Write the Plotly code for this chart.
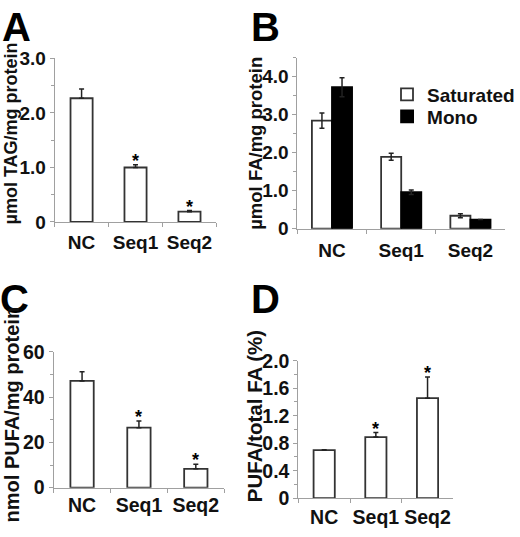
import plotly.graph_objects as go

# ---------------- data ----------------
categories = ["NC", "Seq1", "Seq2"]

tag_values = [2.27, 1.00, 0.19]
tag_errors = [0.17, 0.05, 0.02]
tag_signif = ["", "*", "*"]

fa_saturated = [2.84, 1.89, 0.34]
fa_saturated_err = [0.20, 0.09, 0.05]
fa_mono = [3.72, 0.96, 0.24]
fa_mono_err = [0.25, 0.06, 0.0]

pufa_values = [47.2, 26.5, 8.3]
pufa_errors = [4.0, 3.0, 2.0]
pufa_signif = ["", "*", "*"]

ratio_values = [0.70, 0.89, 1.455]
ratio_errors = [0.005, 0.065, 0.31]
ratio_signif = ["", "*", "*"]

tag_tickvals = [0, 1, 2, 3]
tag_ticktext = ["0", "1.0", "2.0", "3.0"]
tag_minor = [0.5, 1.5, 2.5]

fa_tickvals = [0, 1, 2, 3, 4]
fa_ticktext = ["0", "1.0", "2.0", "3.0", "4.0"]
fa_minor = [0.5, 1.5, 2.5, 3.5, 4.5]

pufa_tickvals = [0, 20, 40, 60]
pufa_ticktext = ["0", "20", "40", "60"]
pufa_minor = [10, 30, 50]

ratio_tickvals = [0, 0.4, 0.8, 1.2, 1.6, 2.0]
ratio_ticktext = ["0", "0.4", "0.8", "1.2", "1.6", "2.0"]
ratio_minor = [0.2, 0.6, 1.0, 1.4, 1.8]

# ---------------- style ----------------
FONT = "Liberation Sans, Arial, sans-serif"
AXIS_COLOR = "#a0a0a0"
EDGE = "#333333"
W, H = 520, 537


def px_x(p):
    return p / W


def px_y(p):
    return 1 - p / H


fig = go.Figure()


def simple_bars(vals, errs, ax):
    fig.add_trace(go.Bar(
        x=categories, y=vals, width=0.41,
        marker=dict(color="white", line=dict(color=EDGE, width=1.8)),
        error_y=dict(type="data", symmetric=False, array=errs,
                     arrayminus=[0] * len(errs), color="#222222",
                     thickness=1.5, width=2.5),
        xaxis="x" + ax, yaxis="y" + ax, showlegend=False,
    ))


simple_bars(tag_values, tag_errors, "")
fig.add_trace(go.Bar(
    name="Saturated", x=categories, y=fa_saturated,
    marker=dict(color="white", line=dict(color=EDGE, width=1.8)),
    error_y=dict(type="data", array=fa_saturated_err, color="#222222",
                 thickness=1.5, width=2.5),
    xaxis="x2", yaxis="y2", legend="legend",
))
fig.add_trace(go.Bar(
    name="Mono", x=categories, y=fa_mono,
    marker=dict(color="black", line=dict(color="black", width=1.8)),
    error_y=dict(type="data", array=fa_mono_err, color="#222222",
                 thickness=1.5, width=2.5),
    xaxis="x2", yaxis="y2", legend="legend2",
))
simple_bars(pufa_values, pufa_errors, "3")
simple_bars(ratio_values, ratio_errors, "4")


def xaxis(domain, anchor, fs, standoff):
    return dict(
        domain=domain, anchor=anchor, type="category",
        showline=True, linecolor=AXIS_COLOR, linewidth=1,
        ticks="outside", tickson="boundaries", ticklen=4,
        tickcolor=AXIS_COLOR, tickwidth=1, tickangle=0,
        ticklabelstandoff=standoff,
        tickfont=dict(family=FONT, size=fs, color="#111111", weight="bold"),
        showgrid=False, zeroline=False, fixedrange=True,
        range=[-0.5, 2.5],
    )


def yaxis(domain, anchor, rng, tv, tt, minor, fs):
    return dict(
        domain=domain, anchor=anchor, range=rng,
        showline=True, linecolor=AXIS_COLOR, linewidth=1,
        ticks="outside", ticklen=4, tickcolor=AXIS_COLOR, tickwidth=1,
        tickmode="array", tickvals=tv, ticktext=tt,
        minor=dict(tickmode="array", tickvals=minor, ticks="outside",
                   ticklen=3, tickcolor=AXIS_COLOR, tickwidth=1, showgrid=False),
        tickfont=dict(family=FONT, size=fs, color="#111111", weight="bold"),
        showgrid=False, zeroline=False, fixedrange=True,
    )


legend_common = dict(xanchor="left", yanchor="middle",
                     font=dict(family=FONT, size=19, color="#111111", weight="bold"),
                     bgcolor="rgba(0,0,0,0)", itemwidth=30, tracegroupgap=0)

fig.update_layout(
    width=W, height=H,
    margin=dict(l=0, r=0, t=0, b=0),
    paper_bgcolor="white", plot_bgcolor="white",
    barmode="group", bargap=0.42, bargroupgap=0,
    xaxis=xaxis([px_x(56), px_x(222)], "y", 19, 3),
    yaxis=yaxis([px_y(220), px_y(49.5)], "x", [0, 3], tag_tickvals, tag_ticktext, tag_minor, 19),
    xaxis2=xaxis([px_x(305), px_x(518)], "y2", 19, 4),
    yaxis2=yaxis([px_y(227), px_y(48.5)], "x2", [0, 4.5], fa_tickvals, fa_ticktext, fa_minor, 19),
    xaxis3=xaxis([px_x(55), px_x(230)], "y3", 19.5, 0),
    yaxis3=yaxis([px_y(497), px_y(355.5)], "x3", [0, 60], pufa_tickvals, pufa_ticktext, pufa_minor, 19.5),
    xaxis4=xaxis([px_x(306), px_x(465)], "y4", 19.5, 1),
    yaxis4=yaxis([px_y(508), px_y(364.7)], "x4", [0, 2.0], ratio_tickvals, ratio_ticktext, ratio_minor, 19.5),
    legend=dict(x=px_x(397), y=px_y(87), **legend_common),
    legend2=dict(x=px_x(397), y=px_y(110), **legend_common),
    showlegend=True,
)

annotations = []

# panel letters
for letter, (lx, ly) in zip("ABCD", [(17, 17), (272, 17), (15, 300), (272, 300)]):
    annotations.append(dict(text=letter, x=px_x(lx), y=px_y(ly), xref="paper", yref="paper",
                            showarrow=False, xanchor="center", yanchor="middle",
                            font=dict(family=FONT, size=40, color="black", weight="bold")))

# y-axis titles
for title, (tx, ty), fs in zip(
    ["µmol TAG/mg protein", "µmol FA/mg protein", "nmol PUFA/mg protein", "PUFA/total FA (%)"],
    [(11, 128), (262, 138), (12, 421), (261, 422)],
    [18, 18.5, 20, 20.5],
):
    annotations.append(dict(text=title, x=px_x(tx), y=px_y(ty), xref="paper", yref="paper",
                            showarrow=False, textangle=-90, xanchor="center", yanchor="middle",
                            font=dict(family=FONT, size=fs, color="#111111", weight="bold")))

# significance asterisks
for ax, vals, errs, marks in [("", tag_values, tag_errors, tag_signif),
                              ("3", pufa_values, pufa_errors, pufa_signif),
                              ("4", ratio_values, ratio_errors, ratio_signif)]:
    for c, v, e, m in zip(categories, vals, errs, marks):
        if m:
            annotations.append(dict(text=m, x=c, y=v + e, xref="x" + ax, yref="y" + ax,
                                    showarrow=False, xanchor="center", yanchor="bottom",
                                    yshift=-8,
                                    font=dict(family=FONT, size=18, color="black", weight="bold")))

fig.update_layout(annotations=annotations)

fig.write_html("out.html", config={"displayModeBar": False},
               post_script="document.body.style.margin='0px';")
